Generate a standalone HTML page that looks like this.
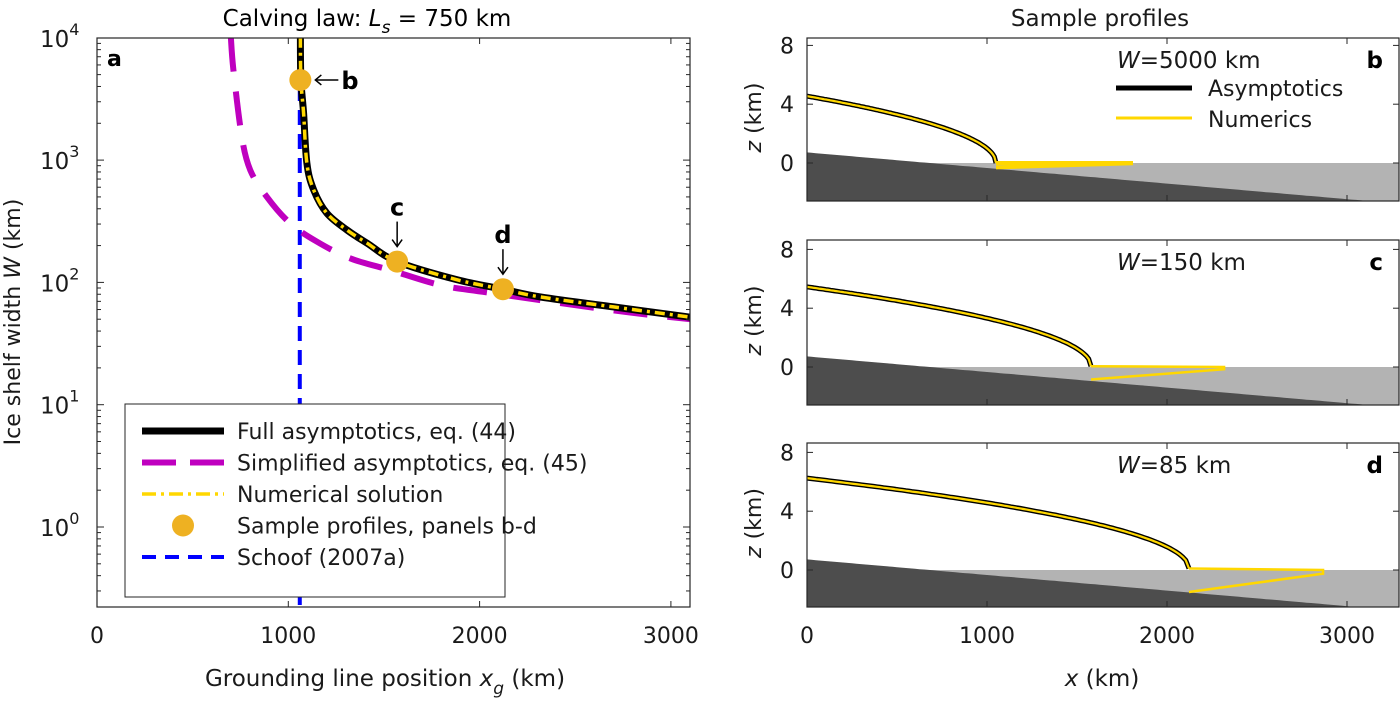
<!DOCTYPE html>
<html><head><meta charset="utf-8">
<style>
body{margin:0;background:#fff;}
svg{display:block;font-family:"DejaVu Sans","Liberation Sans",sans-serif;}
</style></head>
<body>
<svg id="fig" width="1400" height="703" viewBox="0 0 1400 703"></svg>
<script>
// ---- Panel a data ----
const fullW = [10000, 4520, 2415, 942, 569, 367, 268, 209, 148, 105, 88, 76, 63, 52];
const fullX = [1063, 1066, 1080, 1097, 1133, 1202, 1307, 1412, 1569, 1883, 2122, 2319, 2700, 3100];
const simpW = [10000, 5460, 1550, 830, 500, 304, 215, 157, 126, 95, 82, 59, 50];
const simpX = [700, 713, 757, 801, 888, 1010, 1150, 1325, 1534, 1796, 2058, 2700, 3100];
const schoofX = 1060;
const sampleX = [1063, 1569, 2122];
const sampleW = [4520, 148, 88];
const sampleLabels = ['b', 'c', 'd'];
const xTicksA = [0, 1000, 2000, 3000];
const yTicksA = [0, 1, 2, 3, 4];
// ---- Panels b-d data ----
const profW = ['5000', '150', '85'];
const profLetters = ['b', 'c', 'd'];
const profH0 = [4.55, 5.45, 6.25];
const profXg = [1050, 1578, 2122];
const profZg = [0.0, 0.05, 0.1];
const shelfEnd = [1800, 2317, 2867];
const shelfBotG = [-0.3, -0.85, -1.5];
const shelfBotE = [-0.02, -0.15, -0.25];
const bedZ0 = 0.72;
const bedSlope = -0.00106;
const xTicksP = [0, 1000, 2000, 3000];
const zTicks = [0, 4, 8];

const NS = 'http://www.w3.org/2000/svg';
const svg = document.getElementById('fig');
function el(tag, attrs, parent) {
  const e = document.createElementNS(NS, tag);
  for (const k in attrs) e.setAttribute(k, attrs[k]);
  (parent || svg).appendChild(e);
  return e;
}
function txt(s, x, y, size, parent, anchor, weight) {
  const t = el('text', {x: x, y: y, 'font-size': size, 'text-anchor': anchor || 'middle', fill: '#1a1a1a'}, parent);
  if (weight) { t.setAttribute('font-weight', weight); t.setAttribute('fill', '#000'); }
  t.textContent = s;
  return t;
}
// smooth path through points (Catmull-Rom)
function smooth(p) {
  let d = 'M' + p[0][0].toFixed(1) + ',' + p[0][1].toFixed(1);
  for (let i = 0; i < p.length - 1; i++) {
    const p0 = p[Math.max(0, i - 1)], p1 = p[i], p2 = p[i + 1], p3 = p[Math.min(p.length - 1, i + 2)];
    const c1 = [p1[0] + (p2[0] - p0[0]) / 6, p1[1] + (p2[1] - p0[1]) / 6];
    const c2 = [p2[0] - (p3[0] - p1[0]) / 6, p2[1] - (p3[1] - p1[1]) / 6];
    d += ' C' + c1.map(v => v.toFixed(1)).join(',') + ' ' + c2.map(v => v.toFixed(1)).join(',') + ' ' + p2[0].toFixed(1) + ',' + p2[1].toFixed(1);
  }
  return d;
}

// ---- Panel a ----
const A = {l: 97, r: 690, t: 38, b: 607};
const ax = x => A.l + x * 0.1913;
const ay = w => 527 - Math.log10(w) * 122.3;
const ga = el('g', {});


el('defs', {}).innerHTML = '<clipPath id="ca"><rect x="97" y="38" width="593" height="569"/></clipPath>';
const cg = el('g', {'clip-path': 'url(#ca)'}, ga);
const sch = el('line', {x1: ax(schoofX), x2: ax(schoofX), y1: A.t, y2: A.b, stroke: '#0000ff', 'stroke-width': 4, 'stroke-dasharray': '15 9'}, cg);


const pts = (xs, ws) => xs.map((x, i) => [ax(x), ay(ws[i])]);
const simp = el('path', {d: smooth(pts(simpX, simpW)), fill: 'none', stroke: '#bf00bf', 'stroke-width': 6, 'stroke-dasharray': '34 20'}, cg);


const full = el('path', {d: smooth(pts(fullX, fullW)), fill: 'none', stroke: '#000', 'stroke-width': 7}, cg);


const num = el('path', {d: smooth(pts(fullX, fullW)), fill: 'none', stroke: '#ffd700', 'stroke-width': 3.5, 'stroke-dasharray': '10 5 3 5'}, cg);


sampleX.forEach((x, i) => {
  const c = el('circle', {cx: ax(x), cy: ay(sampleW[i]), r: 11, fill: '#eeb122'}, ga);
  
  
});
const cx0 = ax(sampleX[0]), cy0 = ay(sampleW[0]);
el('line', {x1: cx0 + 15, y1: cy0, x2: cx0 + 38, y2: cy0, stroke: '#000', 'stroke-width': 1.5}, ga);
el('path', {d: `M${cx0+21},${cy0-5} L${cx0+15},${cy0} L${cx0+21},${cy0+5}`, fill: 'none', stroke: '#000', 'stroke-width': 1.5}, ga);
txt('b', cx0 + 41, cy0 + 9, 24, ga, 'start', 'bold');
for (let i = 1; i < 3; i++) {
  const x = ax(sampleX[i]), y = ay(sampleW[i]);
  el('line', {x1: x, y1: y - 40, x2: x, y2: y - 16, stroke: '#000', 'stroke-width': 1.5}, ga);
  el('path', {d: `M${x-5},${y-22} L${x},${y-15} L${x+5},${y-22}`, fill: 'none', stroke: '#000', 'stroke-width': 1.5}, ga);
  txt(sampleLabels[i], x, y - 46, 24, ga, 'middle', 'bold');
}
el('rect', {x: A.l, y: A.t, width: A.r - A.l, height: A.b - A.t, fill: 'none', stroke: '#262626', 'stroke-width': 1.2}, ga);
xTicksA.forEach(v => {
  const x = ax(v);
  el('line', {x1: x, x2: x, y1: A.b, y2: A.b - 6, stroke: '#262626'}, ga);
  el('line', {x1: x, x2: x, y1: A.t, y2: A.t + 6, stroke: '#262626'}, ga);
  txt(String(v), x, 643, 22, ga);
});
for (let d = -1; d < 4; d++) for (let m = 1; m < 10; m++) {
  const w = m * Math.pow(10, d), y = ay(w);
  if (y < A.t || y > A.b) continue;
  const len = m === 1 ? 7 : 4;
  el('line', {x1: A.l, x2: A.l + len, y1: y, y2: y, stroke: '#262626'}, ga);
  el('line', {x1: A.r, x2: A.r - len, y1: y, y2: y, stroke: '#262626'}, ga);
}
yTicksA.forEach(p => {
  const y = ay(Math.pow(10, p));
  const t = txt('10', 40, y + 9, 23, ga, 'start');
  const s = el('tspan', {dy: -12, 'font-size': 16}, t); s.textContent = String(p);
});
const xl = txt('Grounding line position ', 385, 686, 23, ga);


let s1 = el('tspan', {'font-style': 'italic'}, xl); s1.textContent = 'x';
let s2 = el('tspan', {dy: 8, 'font-size': 17, 'font-style': 'italic'}, xl); s2.textContent = 'g';
let s3 = el('tspan', {dy: -8}, xl); s3.textContent = ' (km)';
const yl = el('text', {transform: 'translate(20,322) rotate(-90)', 'font-size': 22, 'text-anchor': 'middle', fill: '#1a1a1a'}, ga);


yl.innerHTML = 'Ice shelf width <tspan font-style="italic">W</tspan> (km)';
const ti = el('text', {x: 367, y: 26, 'font-size': 23, 'text-anchor': 'middle', fill: '#000'}, ga);


ti.innerHTML = 'Calving law:  <tspan font-style="italic">L</tspan><tspan font-style="italic" dy="7" font-size="17">s</tspan><tspan dy="-7"> = 750 km</tspan>';
txt('a', 107, 66, 22, ga, 'start', 'bold');
const lg = el('g', {}, ga);


el('rect', {x: 125, y: 404, width: 521, height: 193, fill: '#fff', stroke: '#262626'}, lg);
lg.querySelector('rect').setAttribute('width', 520);
const legNames = ['Full asymptotics, eq. (44)', 'Simplified asymptotics, eq. (45)', 'Numerical solution', 'Sample profiles, panels b-d', 'Schoof (2007a)'];
legNames.forEach((n, i) => {
  const y = 431 + i * 31.5;
  const e = el('g', {}, lg);
  
  
  if (i === 0) el('line', {x1: 142, x2: 224, y1: y, y2: y, stroke: '#000', 'stroke-width': 7}, e);
  if (i === 1) el('line', {x1: 142, x2: 224, y1: y, y2: y, stroke: '#bf00bf', 'stroke-width': 6, 'stroke-dasharray': '34 14'}, e);
  if (i === 2) el('line', {x1: 142, x2: 224, y1: y, y2: y, stroke: '#ffd700', 'stroke-width': 3.5, 'stroke-dasharray': '14 5 3 5'}, e);
  if (i === 3) el('circle', {cx: 183, cy: y, r: 11, fill: '#eeb122'}, e);
  if (i === 4) el('line', {x1: 142, x2: 224, y1: y, y2: y, stroke: '#0000ff', 'stroke-width': 4, 'stroke-dasharray': '14 9'}, e);
  txt(n, 237, y + 8, 22, e, 'start');
});
lg.querySelector('rect').setAttribute('width', 380);

// ---- Panels b-d ----
const P = {l: 807, r: 1399};
const px = x => P.l + x * 0.18;
const tops = [38, 240, 443], bots = [201, 405, 607], zeros = [163, 367, 570];
const st = txt('Sample profiles', 1100, 26, 23, svg);


for (let k = 0; k < 3; k++) {
  const t = tops[k], b = bots[k], z0 = zeros[k];
  const pz = z => z0 - z * 14.7;
  const g = el('g', {});
  
  
  const xmax = (P.r - P.l) / 0.18;
  const bedAt = x => bedZ0 + bedSlope * x;
  el('rect', {x: P.l, y: z0, width: P.r - P.l, height: b - z0, fill: '#b3b3b3'}, g);
  const bp = [];
  for (let x = 0; x <= xmax; x += 25) bp.push(px(x).toFixed(1) + ',' + Math.min(b, pz(bedAt(x))).toFixed(1));
  bp.push(px(xmax).toFixed(1) + ',' + b, P.l + ',' + b);
  const bed = el('polygon', {points: bp.join(' '), fill: '#4d4d4d'}, g);
  
  
  const sp = [];
  for (let i = 0; i <= 120; i++) {
    const x = profXg[k] * i / 120;
    const f = Math.sqrt(Math.max(0, 1 - x / profXg[k]));
    sp.push(px(x).toFixed(1) + ',' + pz(profZg[k] + (profH0[k] - profZg[k]) * f).toFixed(1));
  }
  const sa = el('polyline', {points: sp.join(' '), fill: 'none', stroke: '#000', 'stroke-width': 5}, g);
  
  
  const sn = el('polyline', {points: sp.join(' '), fill: 'none', stroke: '#ffd700', 'stroke-width': 2.2}, g);
  
  
  const sh = el('polyline', {points: [
    px(profXg[k]) + ',' + pz(profZg[k]),
    px(shelfEnd[k]) + ',' + pz(0),
    px(shelfEnd[k]) + ',' + pz(shelfBotE[k]),
    px(profXg[k]) + ',' + pz(shelfBotG[k])].join(' '),
    fill: 'none', stroke: '#ffd700', 'stroke-width': k === 0 ? 4 : 2.5}, g);
  
  
  el('rect', {x: P.l, y: t, width: P.r - P.l, height: b - t, fill: 'none', stroke: '#262626', 'stroke-width': 1.2}, g);
  xTicksP.forEach(v => {
    el('line', {x1: px(v), x2: px(v), y1: b, y2: b - 6, stroke: '#262626'}, g);
    el('line', {x1: px(v), x2: px(v), y1: t, y2: t + 6, stroke: '#262626'}, g);
    if (k === 2) txt(String(v), px(v), 643, 22, g);
  });
  zTicks.forEach(v => {
    el('line', {x1: P.l, x2: P.l + 6, y1: pz(v), y2: pz(v), stroke: '#262626'}, g);
    el('line', {x1: P.r, x2: P.r - 6, y1: pz(v), y2: pz(v), stroke: '#262626'}, g);
    txt(String(v), 794, pz(v) + 8, 22, g, 'end');
  });
  const yt = el('text', {transform: `translate(761,${(t + b) / 2 - 2}) rotate(-90)`, 'font-size': 22, 'text-anchor': 'middle', fill: '#1a1a1a'}, g);
  yt.innerHTML = '<tspan font-style="italic">z</tspan> (km)';
  const wl = el('text', {x: 1117, y: t + 30, 'font-size': 23, fill: '#1a1a1a'}, g);
  wl.innerHTML = '<tspan font-style="italic">W</tspan>=' + profW[k] + ' km';
  txt(profLetters[k], 1383, t + 30, 23, g, 'end', 'bold');
}
const pl = el('g', {});


el('line', {x1: 1116, x2: 1192, y1: 88, y2: 88, stroke: '#000', 'stroke-width': 5}, pl);
txt('Asymptotics', 1208, 96, 22, pl, 'start');
el('line', {x1: 1116, x2: 1192, y1: 118, y2: 118, stroke: '#ffd700', 'stroke-width': 3}, pl);
txt('Numerics', 1208, 127, 22, pl, 'start');
const xt = el('text', {x: 1102, y: 686, 'font-size': 23, 'text-anchor': 'middle', fill: '#1a1a1a'});


xt.innerHTML = '<tspan font-style="italic">x</tspan> (km)';
</script>
</body></html>
